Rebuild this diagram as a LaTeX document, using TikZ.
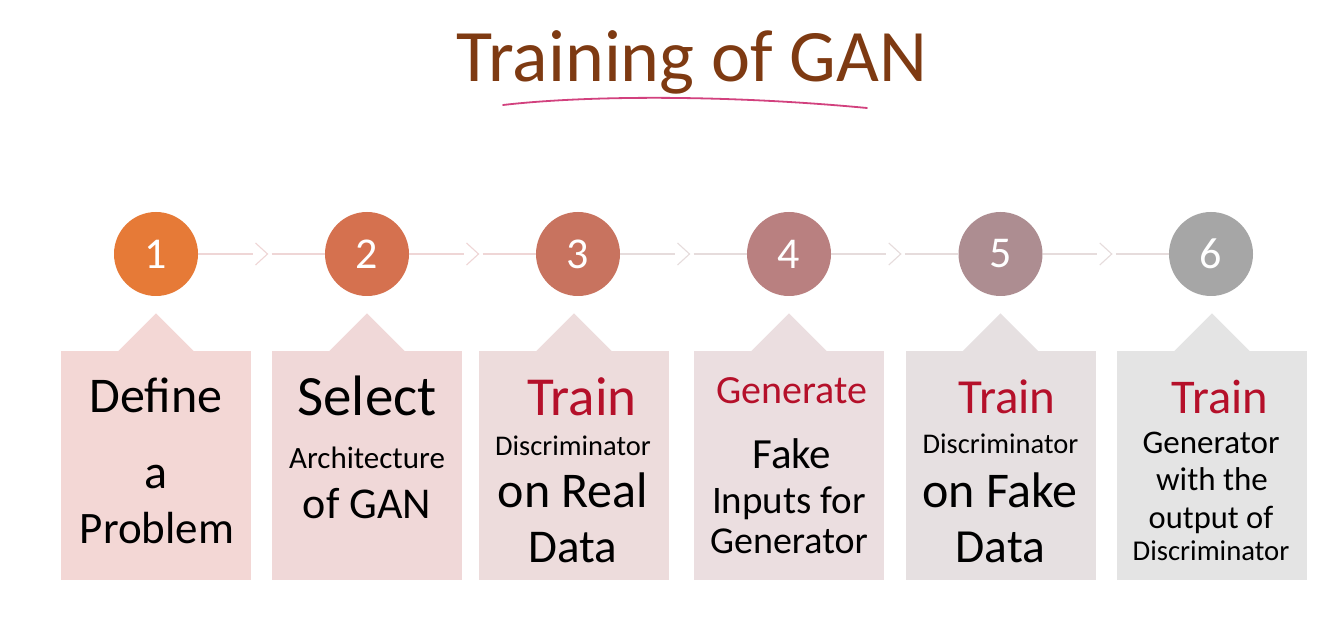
\documentclass[tikz,border=0pt]{standalone}
\usepackage{fontspec}
\setmainfont{Carlito}
\usetikzlibrary{calc}
\definecolor{titlebrown}{HTML}{7E3A12}
\definecolor{ulpink}{HTML}{D2417E}
\definecolor{trainred}{HTML}{B5102A}
\definecolor{cA}{HTML}{E67A37}
\definecolor{cB}{HTML}{D5714F}
\definecolor{cC}{HTML}{C8735F}
\definecolor{cD}{HTML}{B98080}
\definecolor{cE}{HTML}{AD8D91}
\definecolor{cF}{HTML}{A6A6A6}
\definecolor{bA}{HTML}{F3D7D5}
\definecolor{bB}{HTML}{F0D8D8}
\definecolor{bC}{HTML}{EDDCDC}
\definecolor{bD}{HTML}{EBDEE0}
\definecolor{bE}{HTML}{E6E0E1}
\definecolor{bF}{HTML}{E4E4E4}
\definecolor{lnA}{HTML}{EFD6D6}
\definecolor{lnB}{HTML}{E6DCDC}
\newcommand\fsz[1]{\fontsize{#1}{#1}\selectfont}
\begin{document}
\begin{tikzpicture}[x=1pt,y=-1pt,
  circ/.style={circle,minimum size=84pt,inner sep=0pt,text=white,font=\fsz{44}},
  box/.style={rectangle,minimum width=190pt,minimum height=229pt,inner sep=0pt},
  lbl/.style={anchor=base,inner sep=0pt},
  conn/.style={line width=1.1pt},
  chev/.style={line width=1.1pt,line join=miter}]
\useasboundingbox (0,0) rectangle (1333,636);
\fill[white] (0,0) rectangle (1333,636);
% title
\node[lbl,text=titlebrown,font=\fsz{74}] (title) at (692,82) {Training of GAN};
\draw[ulpink,line width=1.8pt,line cap=round] (503,105) .. controls (590,95) and (730,95) .. (867,108);
% boxes
\foreach \n/\x/\c in {1/156/bA,2/367/bB,3/574/bC,4/789/bD,5/1000.5/bE,6/1212/bF}{
  \node[box,fill=\c] (b\n) at (\x,465.5) {};
  \fill[\c] ($(b\n.north)+(-38,0.5)$) -- ($(b\n.north)+(0,-37.5)$) -- ($(b\n.north)+(38,0.5)$) -- cycle;
}
% circles
\node[circ,fill=cA] (c1) at (156,254) {1};
\node[circ,fill=cB] (c2) at (367,254) {2};
\node[circ,fill=cC] (c3) at (578,254) {3};
\node[circ,fill=cD] (c4) at (789,254) {4};
\node[circ,fill=cE] (c5) at (1000.5,254) {5};
\node[circ,fill=cF] (c6) at (1211,254) {6};
% connectors
\foreach \a/\b/\col in {1/2/lnA,2/3/lnA,3/4/lnB,4/5/lnB,5/6/lnB}{
  \coordinate (m\a) at ($(c\a)!0.5!(c\b)$);
  \draw[conn,\col] (c\a.east) -- ($(m\a)+(-9,0)$);
  \draw[conn,\col] ($(m\a)+(10,0)$) -- (c\b.west);
  \draw[chev,\col] ($(m\a)+(-6,-11)$) -- ($(m\a)+(6,0)$) -- ($(m\a)+(-6,11)$);
}
% box 1
\node[lbl,font=\fsz{50}] (t11) at (156,412) {Define};
\node[lbl,font=\fsz{48}] (t12) at (156,488) {a};
\node[lbl,font=\fsz{45}] (t13) at (157,543) {Problem};
% box 2
\node[lbl,font=\fsz{57}] (t21) at (367,415) {Select};
\node[lbl,font=\fsz{31}] (t22) at (367,468) {Architecture};
\node[lbl,font=\fsz{44}] (t23) at (367,518) {of GAN};
% box 3
\node[lbl,font=\fsz{55},text=trainred] (t31) at (582,415) {Train};
\node[lbl,font=\fsz{28.5}] (t32) at (573,455) {Discriminator};
\node[lbl,font=\fsz{50}] (t33) at (573,507) {on Real};
\node[lbl,font=\fsz{47}] (t34) at (573,562) {Data};
% box 4
\node[lbl,font=\fsz{40},text=trainred] (t41) at (792,403) {Generate};
\node[lbl,font=\fsz{43}] (t42) at (792,468) {Fake};
\node[lbl,font=\fsz{39}] (t43) at (789,513) {Inputs for};
\node[lbl,font=\fsz{38}] (t44) at (789,553) {Generator};
% box 5
\node[lbl,font=\fsz{49},text=trainred] (t51) at (1007,413) {Train};
\node[lbl,font=\fsz{28.5}] (t52) at (1000.5,453) {Discriminator};
\node[lbl,font=\fsz{50}] (t53) at (1000,507) {on Fake};
\node[lbl,font=\fsz{47.5}] (t54) at (1000.5,562) {Data};
% box 6
\node[lbl,font=\fsz{48.5},text=trainred] (t61) at (1220,413) {Train};
\node[lbl,font=\fsz{33}] (t62) at (1211,453) {Generator};
\node[lbl,font=\fsz{33}] (t63) at (1212,490) {with the};
\node[lbl,font=\fsz{32.5}] (t64) at (1211,528) {output of};
\node[lbl,font=\fsz{28.7}] (t65) at (1211,560) {Discriminator};
\end{tikzpicture}
\end{document}
